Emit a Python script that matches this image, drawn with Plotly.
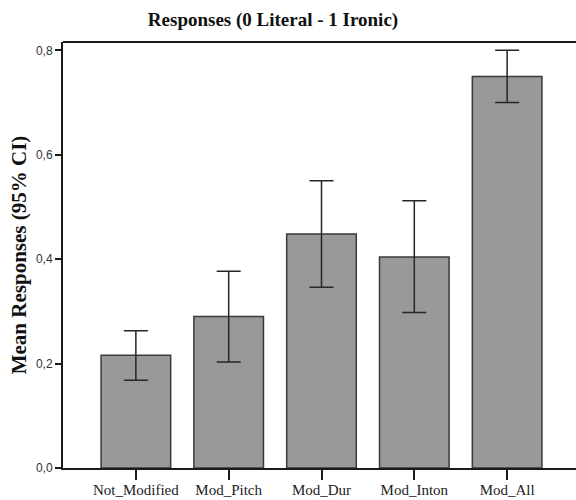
import plotly.graph_objects as go

categories = ["Not_Modified", "Mod_Pitch", "Mod_Dur", "Mod_Inton", "Mod_All"]
means = [0.216, 0.290, 0.448, 0.404, 0.750]
ci_upper = [0.263, 0.377, 0.550, 0.512, 0.800]
ci_lower = [0.168, 0.203, 0.346, 0.298, 0.700]
y_ticks = [0.0, 0.2, 0.4, 0.6, 0.8]

err_plus = [u - m for u, m in zip(ci_upper, means)]
err_minus = [m - l for m, l in zip(means, ci_lower)]

fig = go.Figure()
fig.add_trace(go.Bar(
    x=categories, y=means,
    marker=dict(color="#999999", line=dict(color="#3a3a3a", width=1.5)),
    error_y=dict(type="data", symmetric=False, array=err_plus, arrayminus=err_minus,
                 color="#262626", thickness=1.5, width=12),
    width=0.75,
))

fig.update_layout(
    width=576, height=500,
    autosize=False,
    margin=dict(l=63, r=0, t=42, b=32, pad=0, autoexpand=False),
    paper_bgcolor="white", plot_bgcolor="white",
    separators=",.",
    showlegend=False,
    title=dict(text="<b>Responses (0 Literal - 1 Ironic)</b>",
               font=dict(family="Liberation Serif", size=19, color="#111111"),
               x=273 / 576, xref="container", xanchor="center",
               y=1 - 19 / 500, yref="container", yanchor="middle"),
)
fig.update_xaxes(
    automargin=False,
    range=[-0.785, 4.742], showline=True, linecolor="#1a1a1a", linewidth=2,
    mirror=False, ticks="outside", ticklen=10, tickwidth=1.5, tickcolor="#1a1a1a",
    ticklabelstandoff=-3,
    tickfont=dict(family="Liberation Serif", size=15, color="#222222"),
    showgrid=False, zeroline=False,
)
fig.update_yaxes(
    automargin=False,
    range=[0, 0.816], tickvals=y_ticks, tickformat=".1f",
    showline=True, linecolor="#1a1a1a", linewidth=2,
    ticks="outside", ticklen=6, tickwidth=1.5, tickcolor="#1a1a1a",
    tickfont=dict(family="Liberation Sans", size=12, color="#333333"),
    showgrid=False, zeroline=False,
    title=dict(text="<b>Mean Responses (95% CI)</b>",
               font=dict(family="Liberation Serif", size=21, color="#111111"),
               standoff=4),
)
# top frame line
fig.add_shape(type="line", xref="paper", yref="paper", x0=0, x1=1, y0=1, y1=1,
              line=dict(color="#1a1a1a", width=2))

fig.write_html("out.html",
               config={"displayModeBar": False},
               post_script="document.body.style.margin='0';document.body.style.overflow='hidden';")
